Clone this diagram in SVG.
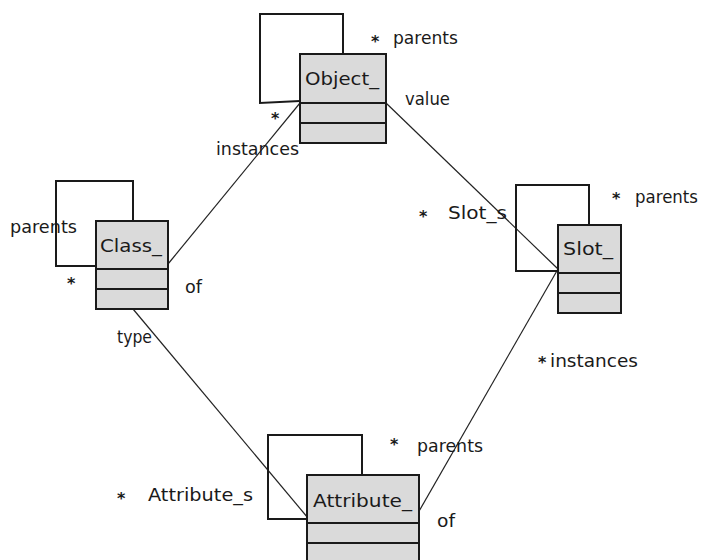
<svg xmlns="http://www.w3.org/2000/svg" width="702" height="560" viewBox="0 0 702 560">
<style>
.box{fill:#dadada;stroke:#1a1a1a;stroke-width:2}
.sep{stroke:#1a1a1a;stroke-width:2}
.loop{fill:none;stroke:#1a1a1a;stroke-width:2}
.conn{fill:none;stroke:#222;stroke-width:1.2}
text{font-family:"DejaVu Sans","Liberation Sans",sans-serif;font-size:18px;fill:#1a1a1a}
.star{font-size:16px;font-weight:bold}
</style>
<rect width="702" height="560" fill="#ffffff"/>
<g id="connectors">
<line class="conn" x1="300" y1="103" x2="168" y2="264"/>
<line class="conn" x1="386" y1="103" x2="558" y2="269"/>
<line class="conn" x1="133" y1="309" x2="308" y2="518"/>
<line class="conn" x1="418" y1="513" x2="558" y2="269"/>
</g>
<g id="Object_">
<polyline class="loop" points="343,54 343,14 260,14 260,103 300,101"/>
<rect class="box" x="300" y="54" width="86" height="89"/>
<line class="sep" x1="300" y1="103" x2="386" y2="103"/>
<line class="sep" x1="300" y1="123" x2="386" y2="123"/>
<text x="305" y="85" textLength="74" lengthAdjust="spacingAndGlyphs">Object_</text>
</g>
<g id="Class_">
<polyline class="loop" points="133,221 133,181 56,181 56,266 96,266"/>
<rect class="box" x="96" y="221" width="72" height="88"/>
<line class="sep" x1="96" y1="269" x2="168" y2="269"/>
<line class="sep" x1="96" y1="289" x2="168" y2="289"/>
<text x="100" y="252" textLength="62" lengthAdjust="spacingAndGlyphs">Class_</text>
</g>
<g id="Slot_">
<polyline class="loop" points="589,225 589,185 516,185 516,271 558,271"/>
<rect class="box" x="558" y="225" width="63" height="88"/>
<line class="sep" x1="558" y1="273" x2="621" y2="273"/>
<line class="sep" x1="558" y1="293" x2="621" y2="293"/>
<text x="563" y="255" textLength="50" lengthAdjust="spacingAndGlyphs">Slot_</text>
</g>
<g id="Attribute_">
<polyline class="loop" points="362,475 362,435 268,435 268,519 307,519"/>
<rect class="box" x="307" y="475" width="112" height="95"/>
<line class="sep" x1="307" y1="523" x2="419" y2="523"/>
<line class="sep" x1="307" y1="543" x2="419" y2="543"/>
<text x="313" y="507" textLength="99" lengthAdjust="spacingAndGlyphs">Attribute_</text>
</g>
<g id="labels">
<text class="star" x="371" y="47">*</text>
<text x="393" y="44" textLength="65" lengthAdjust="spacingAndGlyphs">parents</text>
<text x="405" y="105" textLength="45" lengthAdjust="spacingAndGlyphs">value</text>
<text class="star" x="271" y="124">*</text>
<text x="216" y="155" textLength="83" lengthAdjust="spacingAndGlyphs">instances</text>
<text x="10" y="233" textLength="67" lengthAdjust="spacingAndGlyphs">parents</text>
<text class="star" x="67" y="289">*</text>
<text x="185" y="293" textLength="17" lengthAdjust="spacingAndGlyphs">of</text>
<text x="117" y="343" textLength="35" lengthAdjust="spacingAndGlyphs">type</text>
<text class="star" x="419" y="222">*</text>
<text x="448" y="219" textLength="59" lengthAdjust="spacingAndGlyphs">Slot_s</text>
<text class="star" x="612" y="204">*</text>
<text x="635" y="203" textLength="63" lengthAdjust="spacingAndGlyphs">parents</text>
<text class="star" x="538" y="368">*</text>
<text x="550" y="367" textLength="88" lengthAdjust="spacingAndGlyphs">instances</text>
<text class="star" x="390" y="450">*</text>
<text x="417" y="452" textLength="66" lengthAdjust="spacingAndGlyphs">parents</text>
<text class="star" x="117" y="504">*</text>
<text x="148" y="501" textLength="105" lengthAdjust="spacingAndGlyphs">Attribute_s</text>
<text x="437" y="527" textLength="18" lengthAdjust="spacingAndGlyphs">of</text>
</g>
</svg>
